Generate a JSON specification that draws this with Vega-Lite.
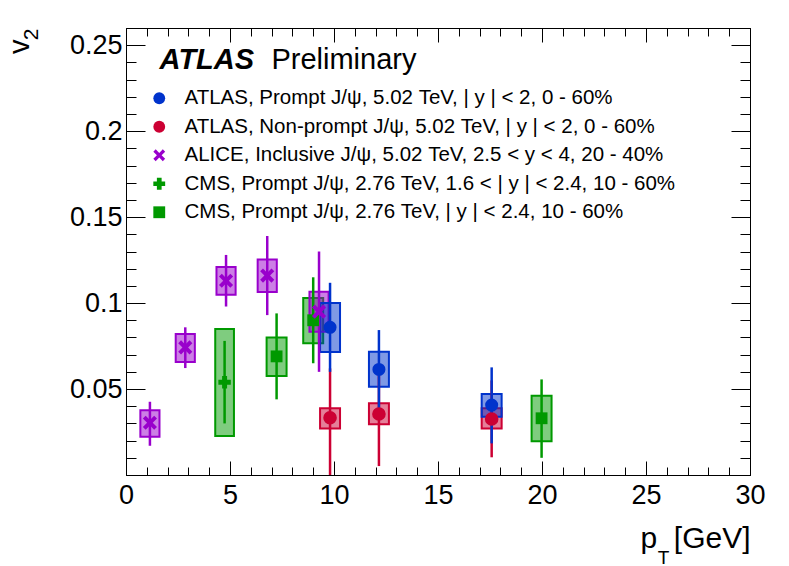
{
  "$schema": "https://vega.github.io/schema/vega-lite/v6.json",
  "description": "J/psi v2 versus pT: ATLAS, ALICE and CMS.",
  "width": 624,
  "height": 447,
  "autosize": {"type": "none"},
  "padding": {"left": 126, "top": 28, "right": 39, "bottom": 91},
  "background": "white",
  "config": {
    "view": {"stroke": "black", "strokeWidth": 1},
    "font": "Liberation Sans",
    "axis": {
      "domainColor": "black", "tickColor": "black", "labelColor": "black", "titleColor": "black",
      "labelFont": "Liberation Sans", "titleFont": "Liberation Sans", "titleFontWeight": "normal",
      "grid": false, "tickWidth": 1, "labelOverlap": false, "labelFlush": false
    },
    "legend": {
      "labelFont": "Liberation Sans", "labelFontSize": 20.5, "labelColor": "black", "labelLimit": 700,
      "symbolSize": 140, "symbolStrokeWidth": 0, "rowPadding": 7.5, "labelOffset": 15, "padding": 0
    }
  },
  "datasets": {
    "v2": [
      {"series": "CMS, Prompt J/ψ, 2.76 TeV, | y | < 2.4, 10 - 60%", "pt": 7.24, "v2": 0.069, "stat_lo": 0.044, "stat_hi": 0.094, "sys_lo": 0.0576, "sys_hi": 0.080, "pt_lo": 6.76, "pt_hi": 7.72},
      {"series": "CMS, Prompt J/ψ, 2.76 TeV, | y | < 2.4, 10 - 60%", "pt": 9.0, "v2": 0.090, "stat_lo": 0.065, "stat_hi": 0.115, "sys_lo": 0.0767, "sys_hi": 0.103, "pt_lo": 8.52, "pt_hi": 9.48},
      {"series": "CMS, Prompt J/ψ, 2.76 TeV, | y | < 2.4, 10 - 60%", "pt": 19.98, "v2": 0.033, "stat_lo": 0.010, "stat_hi": 0.0556, "sys_lo": 0.0196, "sys_hi": 0.0461, "pt_lo": 19.5, "pt_hi": 20.46},
      {"series": "CMS, Prompt J/ψ, 2.76 TeV, 1.6 < | y | < 2.4, 10 - 60%", "pt": 4.74, "v2": 0.054, "stat_lo": 0.030, "stat_hi": 0.078, "sys_lo": 0.0227, "sys_hi": 0.0849, "pt_lo": 4.29, "pt_hi": 5.19},
      {"series": "ALICE, Inclusive J/ψ, 5.02 TeV, 2.5 < y < 4, 20 - 40%", "pt": 1.15, "v2": 0.0304, "stat_lo": 0.017, "stat_hi": 0.0426, "sys_lo": 0.0223, "sys_hi": 0.0376, "pt_lo": 0.69, "pt_hi": 1.61},
      {"series": "ALICE, Inclusive J/ψ, 5.02 TeV, 2.5 < y < 4, 20 - 40%", "pt": 2.85, "v2": 0.0742, "stat_lo": 0.0622, "stat_hi": 0.0859, "sys_lo": 0.0657, "sys_hi": 0.082, "pt_lo": 2.39, "pt_hi": 3.31},
      {"series": "ALICE, Inclusive J/ψ, 5.02 TeV, 2.5 < y < 4, 20 - 40%", "pt": 4.81, "v2": 0.113, "stat_lo": 0.098, "stat_hi": 0.128, "sys_lo": 0.1048, "sys_hi": 0.121, "pt_lo": 4.35, "pt_hi": 5.27},
      {"series": "ALICE, Inclusive J/ψ, 5.02 TeV, 2.5 < y < 4, 20 - 40%", "pt": 6.79, "v2": 0.116, "stat_lo": 0.093, "stat_hi": 0.139, "sys_lo": 0.1064, "sys_hi": 0.1254, "pt_lo": 6.33, "pt_hi": 7.25},
      {"series": "ALICE, Inclusive J/ψ, 5.02 TeV, 2.5 < y < 4, 20 - 40%", "pt": 9.28, "v2": 0.095, "stat_lo": 0.060, "stat_hi": 0.130, "sys_lo": 0.0833, "sys_hi": 0.1066, "pt_lo": 8.82, "pt_hi": 9.74},
      {"series": "ATLAS, Non-prompt J/ψ, 5.02 TeV, | y | < 2, 0 - 60%", "pt": 9.81, "v2": 0.0333, "stat_lo": -0.01, "stat_hi": 0.062, "sys_lo": 0.0271, "sys_hi": 0.0388, "pt_lo": 9.33, "pt_hi": 10.29},
      {"series": "ATLAS, Non-prompt J/ψ, 5.02 TeV, | y | < 2, 0 - 60%", "pt": 12.16, "v2": 0.0355, "stat_lo": 0.0052, "stat_hi": 0.062, "sys_lo": 0.0295, "sys_hi": 0.0417, "pt_lo": 11.68, "pt_hi": 12.64},
      {"series": "ATLAS, Non-prompt J/ψ, 5.02 TeV, | y | < 2, 0 - 60%", "pt": 17.58, "v2": 0.0326, "stat_lo": 0.0103, "stat_hi": 0.055, "sys_lo": 0.0271, "sys_hi": 0.0388, "pt_lo": 17.1, "pt_hi": 18.06},
      {"series": "ATLAS, Prompt J/ψ, 5.02 TeV, | y | < 2, 0 - 60%", "pt": 9.81, "v2": 0.0859, "stat_lo": 0.060, "stat_hi": 0.1118, "sys_lo": 0.0715, "sys_hi": 0.100, "pt_lo": 9.33, "pt_hi": 10.29},
      {"series": "ATLAS, Prompt J/ψ, 5.02 TeV, | y | < 2, 0 - 60%", "pt": 12.16, "v2": 0.0614, "stat_lo": 0.038, "stat_hi": 0.0843, "sys_lo": 0.0513, "sys_hi": 0.0717, "pt_lo": 11.68, "pt_hi": 12.64},
      {"series": "ATLAS, Prompt J/ψ, 5.02 TeV, | y | < 2, 0 - 60%", "pt": 17.58, "v2": 0.0407, "stat_lo": 0.0184, "stat_hi": 0.0626, "sys_lo": 0.0339, "sys_hi": 0.0471, "pt_lo": 17.1, "pt_hi": 18.06}
    ]
  },
  "data": {"name": "v2"},
  "resolve": {"axis": {"x": "independent", "y": "independent"}},
  "layer": [
    {
      "mark": {"type": "rect", "fillOpacity": 0.5, "strokeWidth": 2},
      "encoding": {
        "x": {
          "field": "pt_lo", "type": "quantitative",
          "scale": {"domain": [0, 30], "nice": false, "zero": false},
          "axis": {
            "orient": "bottom",
            "values": [0,1,2,3,4,5,6,7,8,9,10,11,12,13,14,15,16,17,18,19,20,21,22,23,24,25,26,27,28,29,30],
            "labelExpr": "datum.value % 5 === 0 ? format(datum.value, 'd') : ''",
            "tickSize": {"condition": {"test": "datum.value % 5 === 0", "value": -14}, "value": -8},
            "labelFontSize": 27, "labelBaseline": "alphabetic", "labelPadding": 42,
            "title": "p\u00a0\u00a0[GeV]", "titleFontSize": 30, "titleX": 624, "titleY": 72,
            "titleAlign": "right", "titleBaseline": "alphabetic", "titleAngle": 0
          }
        },
        "x2": {"field": "pt_hi"},
        "y": {
          "field": "sys_lo", "type": "quantitative",
          "scale": {"domain": [0, 0.26], "nice": false, "zero": false},
          "axis": {
            "orient": "left",
            "values": [0,0.01,0.02,0.03,0.04,0.05,0.06,0.07,0.08,0.09,0.1,0.11,0.12,0.13,0.14,0.15,0.16,0.17,0.18,0.19,0.2,0.21,0.22,0.23,0.24,0.25],
            "labelExpr": "round(datum.value * 100) % 5 === 0 && datum.value > 0.001 ? format(datum.value, '~g') : ''",
            "tickSize": {"condition": {"test": "round(datum.value * 100) % 5 === 0", "value": -19}, "value": -10},
            "labelFontSize": 27, "labelPadding": 23, "labelBaseline": "middle",
            "title": "v", "titleFontSize": 29, "titleAngle": 270, "titleX": -98, "titleY": 11,
            "titleAlign": "right", "titleBaseline": "alphabetic"
          }
        },
        "y2": {"field": "sys_hi"},
        "fill": {
          "field": "series", "type": "nominal", "legend": null,
          "scale": {
            "domain": ["ALICE, Inclusive J/ψ, 5.02 TeV, 2.5 < y < 4, 20 - 40%", "ATLAS, Non-prompt J/ψ, 5.02 TeV, | y | < 2, 0 - 60%", "ATLAS, Prompt J/ψ, 5.02 TeV, | y | < 2, 0 - 60%", "CMS, Prompt J/ψ, 2.76 TeV, 1.6 < | y | < 2.4, 10 - 60%", "CMS, Prompt J/ψ, 2.76 TeV, | y | < 2.4, 10 - 60%"],
            "range": ["#9900cc", "#cc0033", "#0033cc", "#009900", "#009900"]
          }
        },
        "stroke": {
          "field": "series", "type": "nominal", "legend": null,
          "scale": {
            "domain": ["ALICE, Inclusive J/ψ, 5.02 TeV, 2.5 < y < 4, 20 - 40%", "ATLAS, Non-prompt J/ψ, 5.02 TeV, | y | < 2, 0 - 60%", "ATLAS, Prompt J/ψ, 5.02 TeV, | y | < 2, 0 - 60%", "CMS, Prompt J/ψ, 2.76 TeV, 1.6 < | y | < 2.4, 10 - 60%", "CMS, Prompt J/ψ, 2.76 TeV, | y | < 2.4, 10 - 60%"],
            "range": ["#9900cc", "#cc0033", "#0033cc", "#009900", "#009900"]
          }
        }
      }
    },
    {
      "mark": {"type": "rule", "strokeWidth": 2.5, "clip": true},
      "encoding": {
        "x": {
          "field": "pt", "type": "quantitative",
          "scale": {"domain": [0, 30], "nice": false, "zero": false},
          "axis": {
            "orient": "top",
            "values": [0,1,2,3,4,5,6,7,8,9,10,11,12,13,14,15,16,17,18,19,20,21,22,23,24,25,26,27,28,29,30],
            "tickSize": {"condition": {"test": "datum.value % 5 === 0", "value": -14}, "value": -8},
            "labels": false,
            "title": "T", "titleFontSize": 19, "titleX": 537, "titleY": 535,
            "titleAlign": "center", "titleBaseline": "alphabetic", "titleAngle": 0
          }
        },
        "y": {
          "field": "stat_lo", "type": "quantitative",
          "scale": {"domain": [0, 0.26], "nice": false, "zero": false},
          "axis": {
            "orient": "right",
            "values": [0,0.01,0.02,0.03,0.04,0.05,0.06,0.07,0.08,0.09,0.1,0.11,0.12,0.13,0.14,0.15,0.16,0.17,0.18,0.19,0.2,0.21,0.22,0.23,0.24,0.25],
            "tickSize": {"condition": {"test": "round(datum.value * 100) % 5 === 0", "value": -19}, "value": -10},
            "labels": false,
            "title": "2", "titleFontSize": 21, "titleAngle": 270, "titleX": -713, "titleY": 0,
            "titleAlign": "right", "titleBaseline": "alphabetic"
          }
        },
        "y2": {"field": "stat_hi"},
        "stroke": {
          "field": "series", "type": "nominal", "legend": null,
          "scale": {
            "domain": ["ALICE, Inclusive J/ψ, 5.02 TeV, 2.5 < y < 4, 20 - 40%", "ATLAS, Non-prompt J/ψ, 5.02 TeV, | y | < 2, 0 - 60%", "ATLAS, Prompt J/ψ, 5.02 TeV, | y | < 2, 0 - 60%", "CMS, Prompt J/ψ, 2.76 TeV, 1.6 < | y | < 2.4, 10 - 60%", "CMS, Prompt J/ψ, 2.76 TeV, | y | < 2.4, 10 - 60%"],
            "range": ["#9900cc", "#cc0033", "#0033cc", "#009900", "#009900"]
          }
        }
      }
    },
    {
      "mark": {"type": "point", "filled": true, "opacity": 1, "strokeWidth": 0},
      "encoding": {
        "x": {"field": "pt", "type": "quantitative", "scale": {"domain": [0, 30], "nice": false, "zero": false}, "axis": null},
        "y": {"field": "v2", "type": "quantitative", "scale": {"domain": [0, 0.26], "nice": false, "zero": false}, "axis": null},
        "color": {
          "field": "series", "type": "nominal",
          "scale": {
            "domain": ["ATLAS, Prompt J/ψ, 5.02 TeV, | y | < 2, 0 - 60%", "ATLAS, Non-prompt J/ψ, 5.02 TeV, | y | < 2, 0 - 60%", "ALICE, Inclusive J/ψ, 5.02 TeV, 2.5 < y < 4, 20 - 40%", "CMS, Prompt J/ψ, 2.76 TeV, 1.6 < | y | < 2.4, 10 - 60%", "CMS, Prompt J/ψ, 2.76 TeV, | y | < 2.4, 10 - 60%"],
            "range": ["#0033cc", "#cc0033", "#9900cc", "#009900", "#009900"]
          },
          "legend": {"orient": "none", "legendX": 23, "legendY": 60, "title": null}
        },
        "shape": {
          "field": "series", "type": "nominal",
          "scale": {
            "domain": ["ATLAS, Prompt J/ψ, 5.02 TeV, | y | < 2, 0 - 60%", "ATLAS, Non-prompt J/ψ, 5.02 TeV, | y | < 2, 0 - 60%", "ALICE, Inclusive J/ψ, 5.02 TeV, 2.5 < y < 4, 20 - 40%", "CMS, Prompt J/ψ, 2.76 TeV, 1.6 < | y | < 2.4, 10 - 60%", "CMS, Prompt J/ψ, 2.76 TeV, | y | < 2.4, 10 - 60%"],
            "range": ["circle", "circle", "M-1,-0.6L-0.6,-1L0,-0.4L0.6,-1L1,-0.6L0.4,0L1,0.6L0.6,1L0,0.4L-0.6,1L-1,0.6L-0.4,0Z", "cross", "square"]
          },
          "legend": {"orient": "none", "legendX": 23, "legendY": 60, "title": null}
        },
        "size": {
          "field": "series", "type": "nominal", "legend": null,
          "scale": {
            "domain": ["ALICE, Inclusive J/ψ, 5.02 TeV, 2.5 < y < 4, 20 - 40%", "ATLAS, Non-prompt J/ψ, 5.02 TeV, | y | < 2, 0 - 60%", "ATLAS, Prompt J/ψ, 5.02 TeV, | y | < 2, 0 - 60%", "CMS, Prompt J/ψ, 2.76 TeV, 1.6 < | y | < 2.4, 10 - 60%", "CMS, Prompt J/ψ, 2.76 TeV, | y | < 2.4, 10 - 60%"],
            "range": [200, 140, 140, 180, 115]
          }
        }
      }
    },
    {
      "data": {"values": [{"pt": 1.615, "v2": 0.2363, "label": "ATLAS"}]},
      "mark": {"type": "text", "font": "Liberation Sans", "fontSize": 29, "fontWeight": "bold", "fontStyle": "italic", "align": "left", "baseline": "alphabetic", "color": "black"},
      "encoding": {
        "x": {"field": "pt", "type": "quantitative", "scale": {"domain": [0, 30], "nice": false, "zero": false}, "axis": null},
        "y": {"field": "v2", "type": "quantitative", "scale": {"domain": [0, 0.26], "nice": false, "zero": false}, "axis": null},
        "text": {"field": "label"}
      }
    },
    {
      "data": {"values": [{"pt": 6.99, "v2": 0.2363, "label": "Preliminary"}]},
      "mark": {"type": "text", "font": "Liberation Sans", "fontSize": 29, "align": "left", "baseline": "alphabetic", "color": "black"},
      "encoding": {
        "x": {"field": "pt", "type": "quantitative", "scale": {"domain": [0, 30], "nice": false, "zero": false}, "axis": null},
        "y": {"field": "v2", "type": "quantitative", "scale": {"domain": [0, 0.26], "nice": false, "zero": false}, "axis": null},
        "text": {"field": "label"}
      }
    }
  ]
}
